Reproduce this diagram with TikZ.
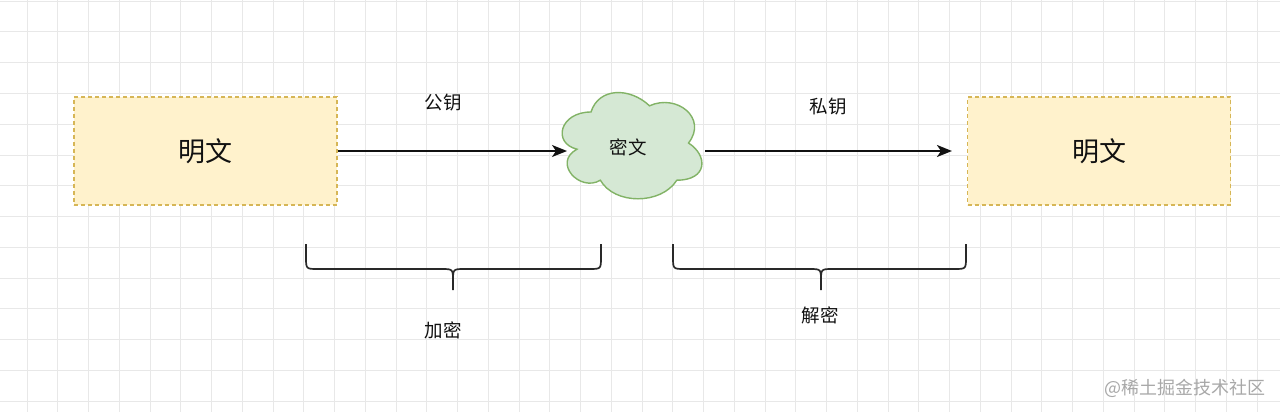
\documentclass[tikz,border=0pt]{standalone}
\usepackage{fontspec}
\newfontfamily\cjk{Noto Sans CJK SC}
\usetikzlibrary{arrows.meta}
\definecolor{gridc}{HTML}{E8E8E8}
\definecolor{boxfill}{HTML}{FFF2CC}
\definecolor{boxline}{HTML}{D6B656}
\definecolor{cloudfill}{HTML}{D5E8D4}
\definecolor{cloudline}{HTML}{82B366}
\definecolor{ink}{HTML}{111111}
\definecolor{wm}{HTML}{A8A8A8}
\tikzset{
  plainbox/.style={draw=boxline, fill=boxfill, line width=1.1pt, dash pattern=on 4pt off 3pt,
    minimum width=263pt, minimum height=108pt, inner sep=0pt, font=\cjk\fontsize{27}{30}\selectfont, text=ink},
  lbl/.style={inner sep=0pt, font=\cjk\fontsize{18.5}{22}\selectfont, text=ink},
  arr/.style={draw=ink, line width=1.6pt, -{Stealth[length=15pt,width=12pt,inset=4pt]}},
  bracestyle/.style={draw=ink!90, line width=1.7pt},
}
\begin{document}
\begin{tikzpicture}[x=1pt,y=-1pt]
\useasboundingbox (0,0) rectangle (1280,412);
\fill[white] (0,0) rectangle (1280,412);
% grid
\foreach \k in {0,...,40} {\draw[gridc, line width=1pt] ({27+\k*30.75},0) -- ({27+\k*30.75},412);}
\foreach \k in {-1,...,12} {\draw[gridc, line width=1pt] (0,{32+\k*30.75}) -- (1280,{32+\k*30.75});}

% boxes
\node[plainbox] (p1) at (205.5,151) {明文};
\node[plainbox] (p2) at (1099,151) {明文};

% cloud
\begin{scope}[shift={(552,81)}, x=156pt, y=-124pt]
\draw[fill=cloudfill, draw=cloudline, line width=1.4pt]
 (0.25,0.25) .. controls (0.05,0.25) and (0,0.5) .. (0.16,0.55)
 .. controls (0,0.66) and (0.18,0.9) .. (0.31,0.8)
 .. controls (0.4,1) and (0.7,1) .. (0.8,0.8)
 .. controls (1,0.8) and (1,0.6) .. (0.875,0.5)
 .. controls (1,0.3) and (0.8,0.1) .. (0.625,0.2)
 .. controls (0.5,0.05) and (0.3,0.05) .. (0.25,0.25) -- cycle;
\end{scope}
\node[lbl] (ct) at (628,147) {密文};
\coordinate (cl) at (567,151);
\coordinate (cr) at (705,151);

% arrows
\draw[arr] (p1.east) -- (cl);
\draw[arr, shorten >=15pt] (cr) -- (p2.west);
\node[lbl] (k1) at (443,103) {公钥};
\node[lbl] (k2) at (828,107) {私钥};

% braces
\coordinate (a1) at (306,244);
\coordinate (a2) at (601,244);
\coordinate (at) at (453,290);
\draw[bracestyle] (a1) -- (306,257) .. controls (306,269) .. (318,269) -- (441,269)
  .. controls (453,269) .. (453,281) -- (at);
\draw[bracestyle] (453,281) .. controls (453,269) .. (465,269) -- (589,269)
  .. controls (601,269) .. (601,257) -- (a2);
\node[lbl] (e1) at (443,330) {加密};

\coordinate (d1) at (673,244);
\coordinate (d2) at (966,244);
\coordinate (dt) at (821,290);
\draw[bracestyle] (d1) -- (673,257) .. controls (673,269) .. (685,269) -- (809,269)
  .. controls (821,269) .. (821,281) -- (dt);
\draw[bracestyle] (821,281) .. controls (821,269) .. (833,269) -- (954,269)
  .. controls (966,269) .. (966,257) -- (d2);
\node[lbl] (e2) at (820,315) {解密};

% watermark
\node[inner sep=0pt, font=\cjk\fontsize{18}{22}\selectfont, text=wm] (wmk) at (1185,388) {@稀土掘金技术社区};
\end{tikzpicture}
\end{document}
